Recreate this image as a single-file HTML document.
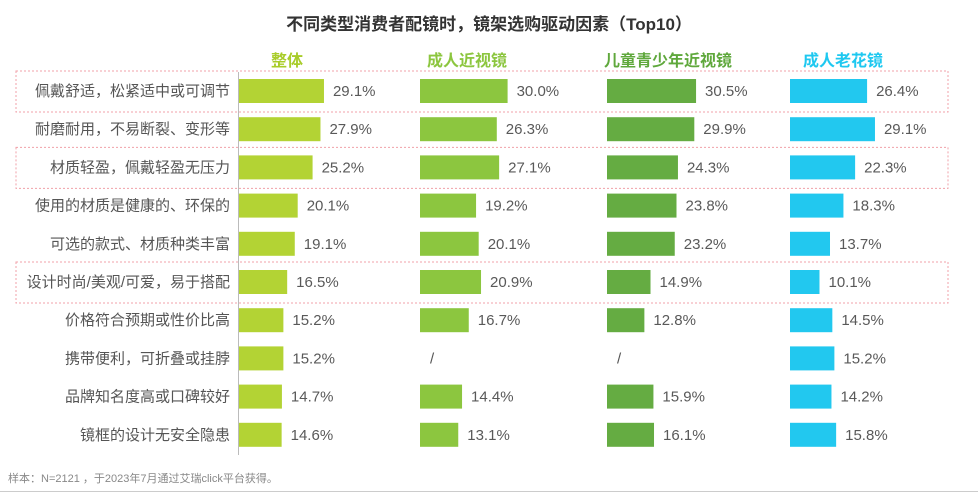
<!DOCTYPE html>
<html><head><meta charset="utf-8"><style>
body{margin:0;background:#fff;width:978px;height:493px;overflow:hidden;position:relative;font-family:"Liberation Sans","Noto Sans CJK SC",sans-serif}
.t{position:absolute;white-space:nowrap}
</style></head><body>
<div class="t" style="left:0;width:978px;top:10px;text-align:center;font-size:17px;font-weight:bold;color:#333">不同类型消费者配镜时，镜架选购驱动因素（Top10）</div>
<svg id="c" width="978" height="493" style="position:absolute;left:0;top:0"></svg>
<div class="t" style="left:8px;top:470px;font-size:11px;color:#888">样本：N=2121 ，于2023年7月通过艾瑞click平台获得。</div>
<div style="position:absolute;left:0;top:491px;width:978px;height:1px;background:#ccc"></div>
<script>
const categories=["佩戴舒适，松紧适中或可调节","耐磨耐用，不易断裂、变形等","材质轻盈，佩戴轻盈无压力","使用的材质是健康的、环保的","可选的款式、材质种类丰富","设计时尚/美观/可爱，易于搭配","价格符合预期或性价比高","携带便利，可折叠或挂脖","品牌知名度高或口碑较好","镜框的设计无安全隐患"];
const seriesNames=["整体","成人近视镜","儿童青少年近视镜","成人老花镜"];
const overall=[29.1,27.9,25.2,20.1,19.1,16.5,15.2,15.2,14.7,14.6];
const adultMyopia=[30.0,26.3,27.1,19.2,20.1,20.9,16.7,null,14.4,13.1];
const childMyopia=[30.5,29.9,24.3,23.8,23.2,14.9,12.8,null,15.9,16.1];
const presbyopia=[26.4,29.1,22.3,18.3,13.7,10.1,14.5,15.2,14.2,15.8];
const highlighted=[0,2,5];
const series=[overall,adultMyopia,childMyopia,presbyopia];
const colStart=[239,420,607,790];
const barColors=["#b3d334","#8cc63f","#65ac42","#22c8ef"];
const headColors=["#a8cc2a","#8cc63f","#5fa83c","#1ec8f0"];
const headCenters=[287,467,668,843];
const NS="http://www.w3.org/2000/svg";
const svg=document.getElementById('c');
const xs=v=>v*2.92;
const yc=i=>91+i*38.2;
function mk(t,a){const e=document.createElementNS(NS,t);for(const k in a)e.setAttribute(k,a[k]);svg.appendChild(e);return e;}
highlighted.forEach(i=>{
 const r=mk('rect',{x:16,y:yc(i)-20,width:932,height:41,fill:'none',stroke:'#f0a0a8','stroke-width':1,'stroke-dasharray':'2,2'});
 
 
});
const ax=mk('line',{x1:238.5,x2:238.5,y1:72,y2:455,stroke:'#bbb','stroke-width':1});


seriesNames.forEach((n,s)=>{
 const h=mk('text',{x:headCenters[s],y:66,'text-anchor':'middle','font-size':16,'font-weight':'bold',fill:headColors[s]});
 h.textContent=n;
 
 
});
categories.forEach((c,i)=>{
 const t=mk('text',{x:230,y:yc(i)+5,'text-anchor':'end','font-size':15,fill:'#555'});
 t.textContent=c;
 
 
 series.forEach((arr,s)=>{
  const v=arr[i];
  if(v==null){
   const sl=mk('text',{x:colStart[s]+10,y:yc(i)+5,'font-size':15,fill:'#555'});
   sl.textContent='/';
   
   
   return;
  }
  const b=mk('rect',{x:colStart[s],y:yc(i)-12,width:xs(v),height:24,fill:barColors[s]});
  
  
  const l=mk('text',{x:colStart[s]+xs(v)+9,y:yc(i)+5,'font-size':15,fill:'#595959'});
  l.textContent=v.toFixed(1)+'%';
  
  
 });
});
</script>
</body></html>
